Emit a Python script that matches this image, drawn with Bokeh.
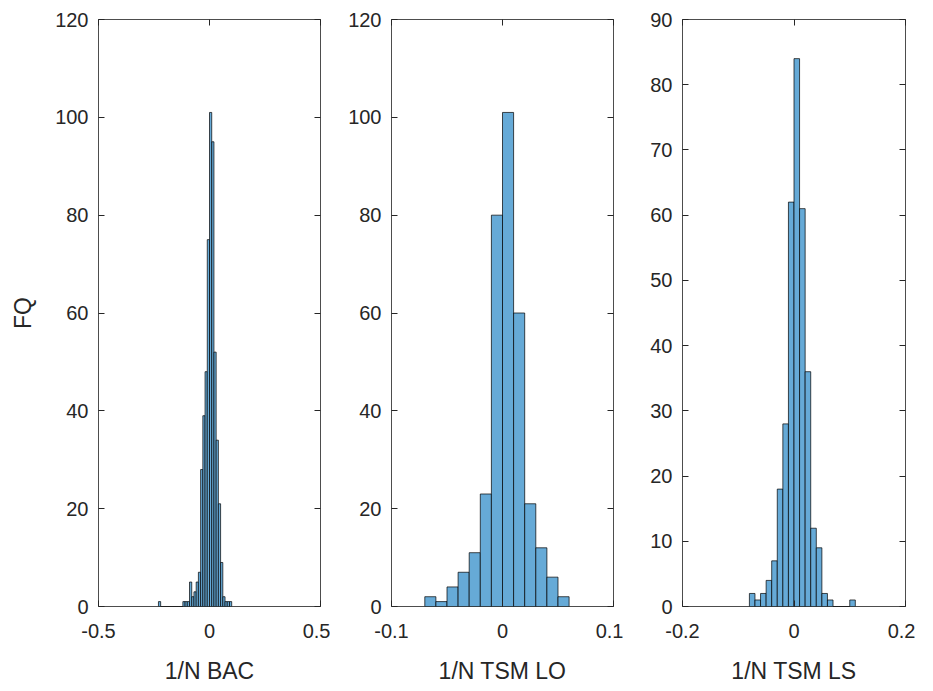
from bokeh.plotting import figure
from bokeh.layouts import row
from bokeh.models import Range1d, FixedTicker, LinearAxis, CustomJSTickFormatter
from bokeh.embed import file_html
from bokeh.resources import INLINE

# ---- data ----
bin_width = 0.01

bac_start = -0.23
bac_counts = [1, 0, 0, 0, 0, 0, 0, 0, 0, 0, 0,
              1, 1, 1, 5, 2, 3, 5, 7, 28, 39, 48, 75, 101, 95, 52, 34, 21, 9, 2, 1, 1, 1]

lo_start = -0.07
lo_counts = [2, 1, 4, 7, 11, 23, 80, 101, 60, 21, 12, 6, 2]

ls_start = -0.08
ls_counts = [2, 1, 2, 4, 7, 18, 28, 62, 84, 61, 36, 12, 9, 2, 1, 0, 0, 0, 1]

x_labels = ["1/N BAC", "1/N TSM LO", "1/N TSM LS"]
x_limits = [(-0.5, 0.5), (-0.1, 0.1), (-0.2, 0.2)]
x_ticks = [[-0.5, 0, 0.5], [-0.1, 0, 0.1], [-0.2, 0, 0.2]]
x_tick_labels = [["-0.5", "0", "0.5"], ["-0.1", "0", "0.1"], ["-0.2", "0", "0.2"]]
y_limits = [(0, 120), (0, 120), (0, 90)]
y_ticks = [[0, 20, 40, 60, 80, 100, 120], [0, 20, 40, 60, 80, 100, 120],
           [0, 10, 20, 30, 40, 50, 60, 70, 80, 90]]
y_label = "FQ"

FONT = "Liberation Sans"
TXT = "#262626"
FILL = "#66AAD7"
TICK_FS = "20px"
LABEL_FS = "23px"

# layout: (min_border_left, frame width)
layouts = [(98, 222), (61, 222), (59, 223)]
R_BORDER = 10
TOP = 19
BOTTOM = 84
FRAME_H = 587


def style_axis(ax, ticks, labels=None, show_labels=True):
    ax.ticker = FixedTicker(ticks=ticks)
    ax.axis_line_color = None
    ax.major_tick_in = 6
    ax.major_tick_out = 0
    ax.major_tick_line_color = TXT
    ax.major_tick_line_width = 1
    ax.minor_tick_line_color = None
    if show_labels:
        ax.major_label_text_font = FONT
        ax.major_label_text_font_size = TICK_FS
        ax.major_label_text_color = TXT
        if labels is not None:
            ax.major_label_overrides = {t: l for t, l in zip(ticks, labels)}
    else:
        ax.formatter = CustomJSTickFormatter(code="return ''")
        ax.major_label_standoff = 0


def make_panel(i, start, counts):
    left_b, fw = layouts[i]
    p = figure(width=left_b + fw + R_BORDER, height=TOP + FRAME_H + BOTTOM,
               output_backend="svg", toolbar_location=None,
               x_range=Range1d(*x_limits[i]), y_range=Range1d(*y_limits[i]),
               min_border_left=left_b, min_border_right=R_BORDER,
               min_border_top=TOP, min_border_bottom=BOTTOM)
    p.xgrid.visible = False
    p.ygrid.visible = False
    p.outline_line_color = "#4d4d4d"
    p.outline_line_width = 1
    p.background_fill_color = "white"
    p.border_fill_color = "white"

    lefts = [start + k * bin_width for k in range(len(counts))]
    rights = [l + bin_width for l in lefts]
    bottoms = [0] * len(counts)
    p.quad(left=lefts, right=rights, top=counts, bottom=bottoms,
           fill_color=FILL, line_color="black", line_width=0.7)

    xa = p.xaxis[0]
    style_axis(xa, x_ticks[i], x_tick_labels[i])
    xa.major_label_standoff = 17
    xa.axis_label = x_labels[i]
    xa.axis_label_text_font = FONT
    xa.axis_label_text_font_size = LABEL_FS
    xa.axis_label_text_font_style = "normal"
    xa.axis_label_text_color = TXT
    xa.axis_label_standoff = 17

    ya = p.yaxis[0]
    style_axis(ya, y_ticks[i])
    ya.major_label_standoff = 10
    if i == 0:
        ya.axis_label = y_label
        ya.axis_label_text_font = FONT
        ya.axis_label_text_font_size = LABEL_FS
        ya.axis_label_text_font_style = "normal"
        ya.axis_label_text_color = TXT
        ya.axis_label_standoff = 16

    ra = LinearAxis()
    style_axis(ra, y_ticks[i], show_labels=False)
    p.add_layout(ra, "right")
    ta = LinearAxis()
    style_axis(ta, x_ticks[i], show_labels=False)
    p.add_layout(ta, "above")
    return p


p1 = make_panel(0, bac_start, bac_counts)
p2 = make_panel(1, lo_start, lo_counts)
p3 = make_panel(2, ls_start, ls_counts)

layout = row(p1, p2, p3)
open("out.html", "w").write(file_html(layout, INLINE))
